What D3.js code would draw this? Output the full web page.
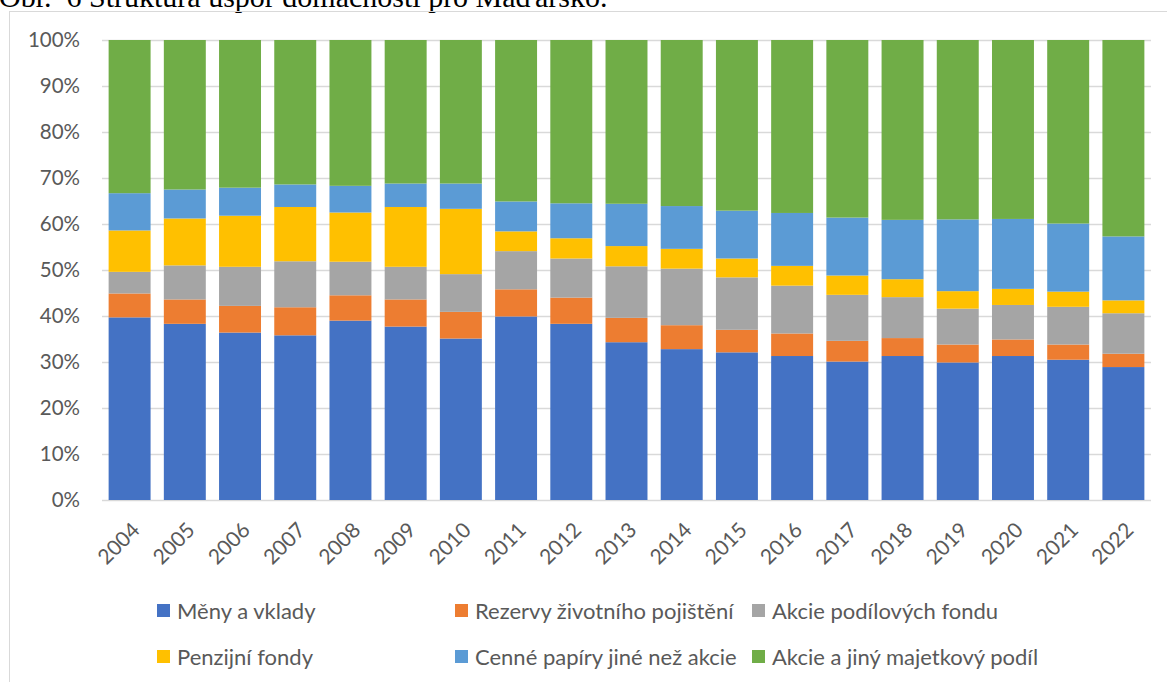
<!DOCTYPE html>
<html><head><meta charset="utf-8">
<script src="https://cdn.jsdelivr.net/npm/d3@7"></script>
<style>
html,body{margin:0;padding:0;background:#fff;}
svg{display:block;}
</style></head>
<body>
<svg id="c" width="1167" height="682"></svg>
<script>
const years = ["2004","2005","2006","2007","2008","2009","2010","2011","2012","2013","2014","2015","2016","2017","2018","2019","2020","2021","2022"];
const seriesNames = ["Měny a vklady","Rezervy životního pojištění","Akcie podílových fondu","Penzijní fondy","Cenné papíry jiné než akcie","Akcie a jiný majetkový podíl"];
const menyVklady   = [39.7,38.3,36.4,35.8,39.0,37.7,35.1,39.9,38.3,34.3,32.8,32.1,31.3,30.1,31.3,29.9,31.3,30.5,28.9];
const rezervy      = [5.2,5.3,5.8,6.1,5.5,5.9,5.8,5.9,5.7,5.3,5.2,4.9,4.9,4.5,3.9,3.9,3.6,3.3,2.9];
const akciePodil   = [4.7,7.4,8.5,10.0,7.3,7.1,8.2,8.3,8.5,11.2,12.3,11.4,10.4,10.0,8.9,7.8,7.5,8.2,8.8];
const penzijni     = [9.0,10.2,11.1,11.8,10.7,13.0,14.2,4.3,4.4,4.4,4.3,4.1,4.3,4.2,3.9,3.8,3.5,3.3,2.8];
const cennePapiry  = [8.1,6.3,6.1,4.9,5.8,5.1,5.5,6.5,7.6,9.2,9.3,10.4,11.5,12.6,12.9,15.6,15.2,14.8,13.9];
const akcieJiny    = [33.3,32.5,32.1,31.4,31.7,31.2,31.2,35.1,35.5,35.6,36.1,37.1,37.6,38.6,39.1,39.0,38.9,39.9,42.7];
const yTicks = [0,10,20,30,40,50,60,70,80,90,100];
const colors = ["#4472C4","#ED7D31","#A5A5A5","#FFC000","#5B9BD5","#70AD47"];
const title = "Obr.\u00a0 6 Struktura úspor domácností pro Maďarsko.";

const seriesVals = [menyVklady, rezervy, akciePodil, penzijni, cennePapiry, akcieJiny];
const rows = years.map((y,i)=>{ const r={year:y}; seriesNames.forEach((s,k)=>r[s]=seriesVals[k][i]); return r; });
const stacked = d3.stack().keys(seriesNames).offset(d3.stackOffsetExpand)(rows);

const svg = d3.select("#c");
const font = "Lato, 'Open Sans', sans-serif";
const txt = "#595959";

// title (partly cut off at the top, as in the reference)
svg.append("text").attr("x",-1).attr("y",7).attr("font-family","'Liberation Serif','Times New Roman',serif")
  .attr("font-size",30).attr("fill","#000").text(title);

// frame
svg.append("rect").attr("x",9.5).attr("y",11.5).attr("width",1170).attr("height",700)
  .attr("fill","none").attr("stroke","#d9d9d9").attr("stroke-width",1);

const x = d3.scaleBand().domain(years).range([102,1151]).paddingInner(0.24).paddingOuter(0.12);
const y = d3.scaleLinear().domain([0,1]).range([500,40]);

// gridlines
svg.append("g").selectAll("line").data(yTicks).join("line")
  .attr("x1",102).attr("x2",1151)
  .attr("y1",d=>Math.round(y(d/100))+0.5).attr("y2",d=>Math.round(y(d/100))+0.5)
  .attr("stroke","#d9d9d9").attr("stroke-width",1.3);

// y labels
svg.append("g").selectAll("text").data(yTicks).join("text")
  .attr("x",80).attr("y",d=>y(d/100)).attr("dy","0.36em")
  .attr("text-anchor","end").attr("font-family",font).attr("font-size",20.5).attr("fill",txt)
  .text(d=>d+"%");

// bars
svg.append("g").selectAll("g").data(stacked).join("g")
  .attr("fill",(d,i)=>colors[i])
  .selectAll("rect").data(d=>d).join("rect")
  .attr("x",d=>x(d.data.year)).attr("width",x.bandwidth())
  .attr("y",d=>y(d[1])).attr("height",d=>y(d[0])-y(d[1]));

// x labels
svg.append("g").selectAll("text").data(years).join("text")
  .attr("transform",d=>`translate(${x(d)+x.bandwidth()/2+1},${521}) rotate(-45)`)
  .attr("text-anchor","end").attr("dy","0.7em")
  .attr("font-family",font).attr("font-size",21).attr("fill",txt).text(d=>d);

// legend
const legX = [157,455,752];
const legY = [611,657];
const leg = svg.append("g").selectAll("g").data(seriesNames).join("g")
  .attr("transform",(d,i)=>`translate(${legX[i%3]},${legY[Math.floor(i/3)]})`);
leg.append("rect").attr("x",0).attr("y",-7).attr("width",13).attr("height",13).attr("fill",(d,i)=>colors[i]);
leg.append("text").attr("x",20).attr("y",0).attr("dy","0.36em")
  .attr("font-family",font).attr("font-size",22).attr("fill",txt).text(d=>d);
</script>
</body></html>
